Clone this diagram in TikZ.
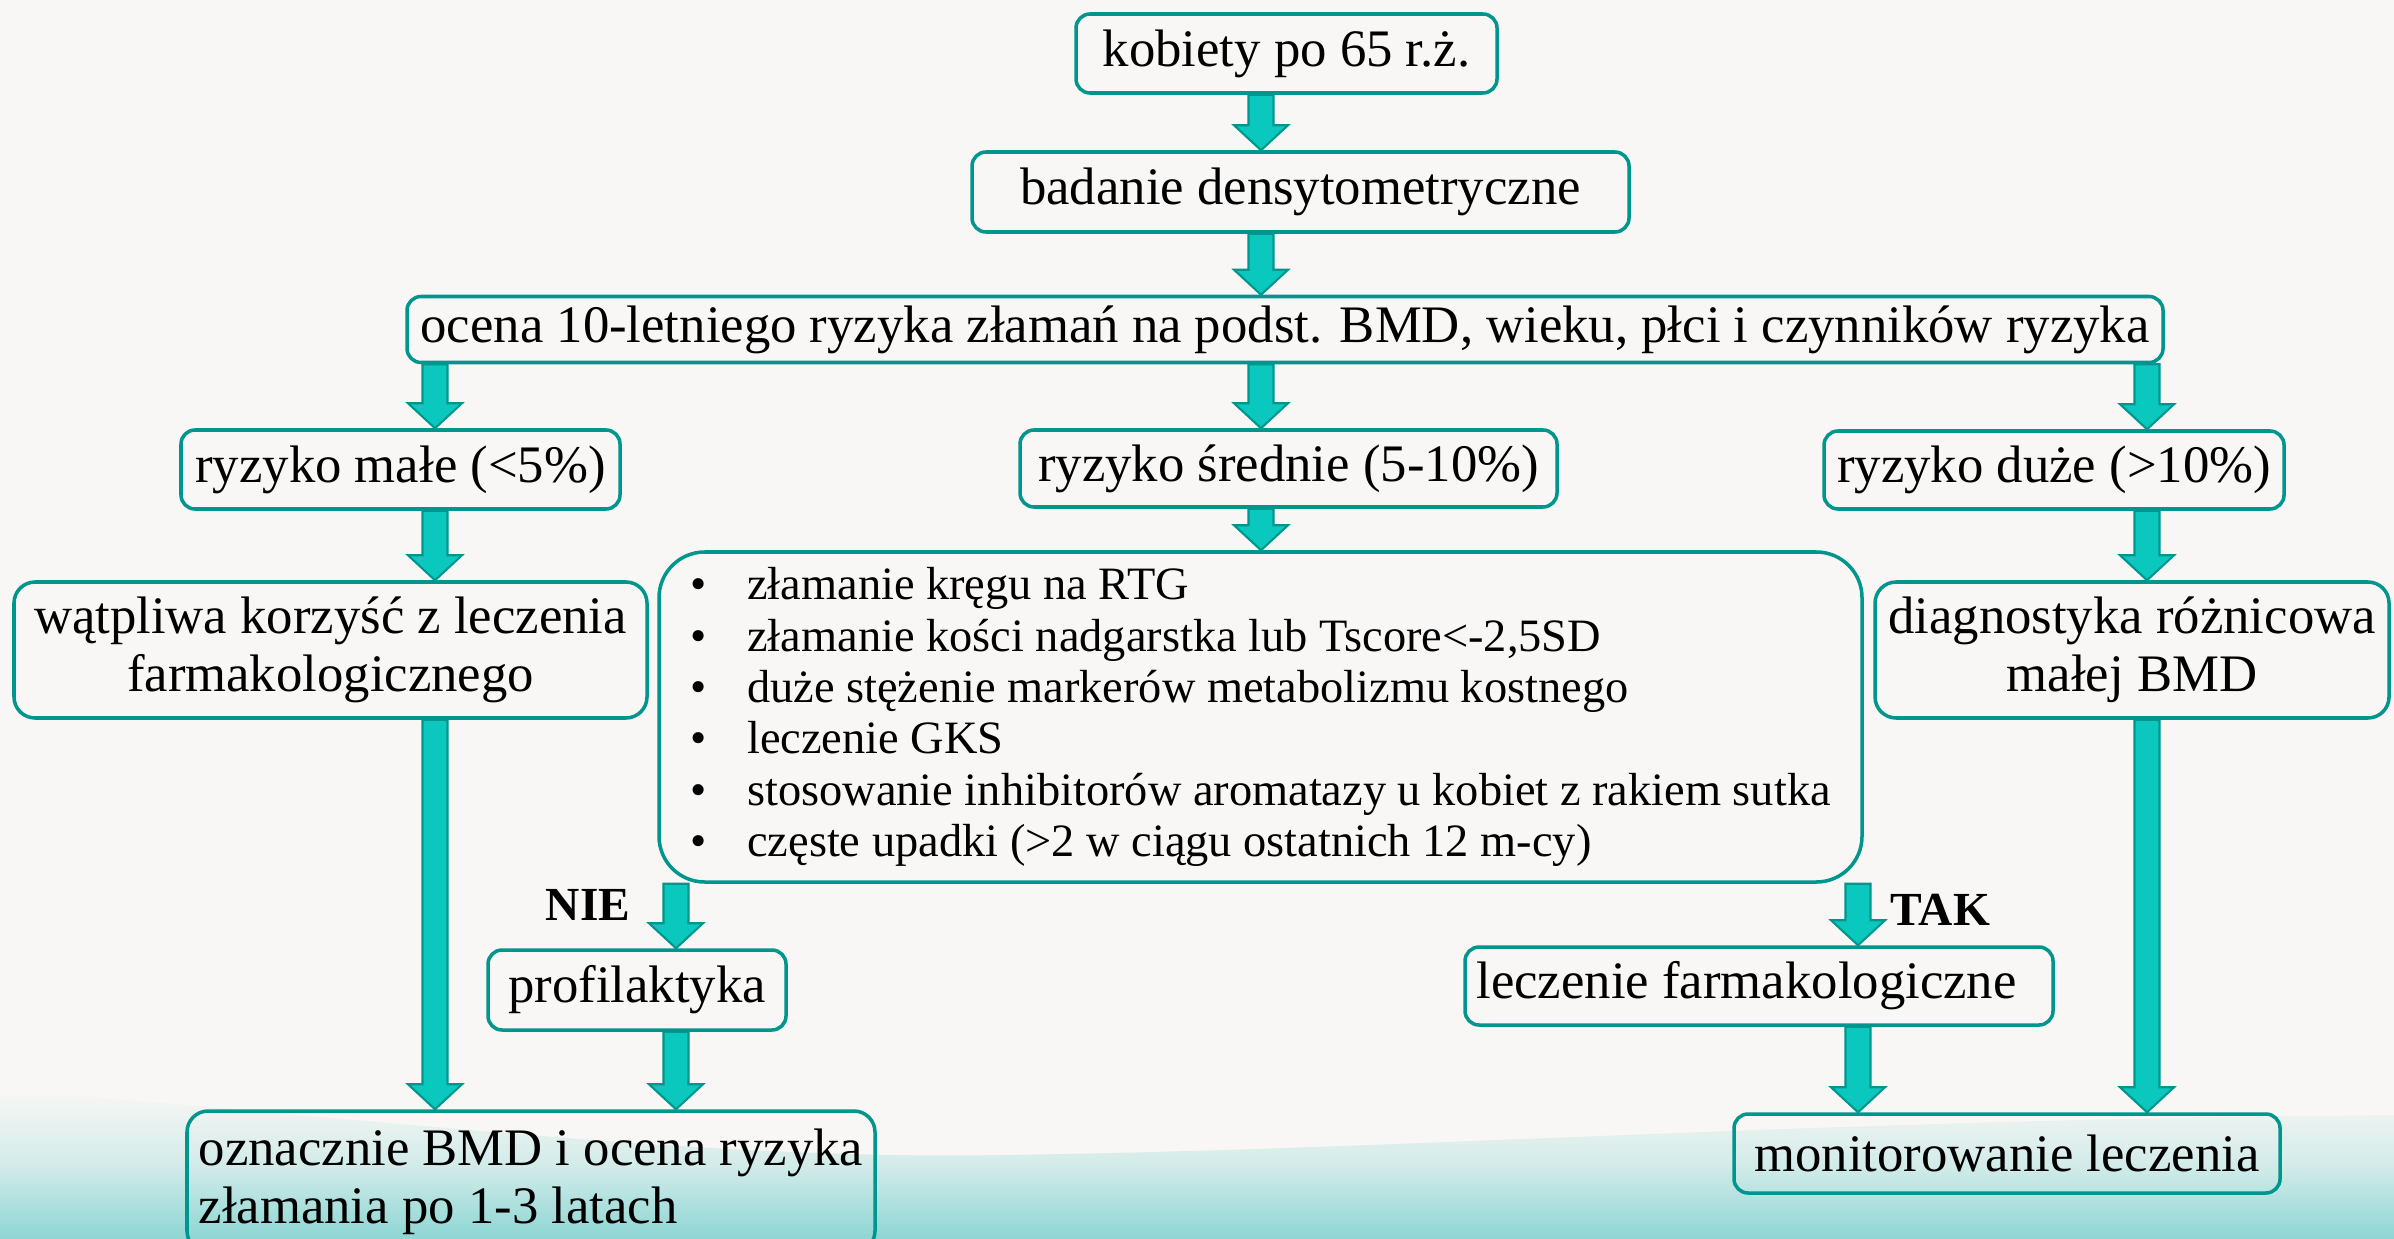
\documentclass[tikz,border=0pt]{standalone}
\usepackage{fontspec}
\setmainfont{Liberation Serif}
\usetikzlibrary{positioning, calc}

\definecolor{paper}{RGB}{249,247,245}
\definecolor{wash}{RGB}{140,214,211}
\definecolor{tealline}{RGB}{0,150,142}
\definecolor{tealfill}{RGB}{10,200,190}

%% block arrow from point #1 down to point #2
\newcommand{\flowarrow}[2]{%
  \path (#1) coordinate (fa) (#2) coordinate (fb);
  \filldraw[flow] ($(fa)+(-0.125,0)$) -- ($(fb)+(-0.125,0.25)$)
    -- ($(fb)+(-0.27,0.25)$) -- (fb) -- ($(fb)+(0.27,0.25)$)
    -- ($(fb)+(0.125,0.25)$) -- ($(fa)+(0.125,0)$) -- cycle;
}

\begin{document}
\begin{tikzpicture}[
  font=\fontsize{15}{16.4}\selectfont,
  %% Main node styles
  box/.style={
    draw=tealline, line width=1pt, rounded corners=4pt,
    align=center, inner sep=2pt
  },
  tallbox/.style={box, rounded corners=6pt},
  listbox/.style={
    draw=tealline, line width=1pt, rounded corners=13pt,
    align=left, inner sep=2pt,
    font=\fontsize{13.2}{14.6}\selectfont
  },
  answer/.style={font=\fontsize{13.5}{15}\selectfont\bfseries, inner sep=0pt},
  flow/.style={fill=tealfill, draw=tealline, line width=0.6pt, line join=miter},
]

%% ── PAGE ──────────────────────────────────────────────────────────────────
\useasboundingbox (0,0) rectangle (23.94,-12.39);
\clip (0,0) rectangle (23.94,-12.39);
\fill[paper] (0,0) rectangle (23.94,-12.39);
\shade[top color=paper, bottom color=wash, middle color=wash!35!paper]
  (0,-10.9) .. controls (4,-11.2) and (7,-11.6) .. (10,-11.55)
  .. controls (14,-11.5) and (18,-11.2) .. (23.94,-11.15)
  -- (23.94,-12.39) -- (0,-12.39) -- cycle;

%% arrow columns
\coordinate (colL) at (4.35,0);
\coordinate (colM) at (12.61,0);
\coordinate (colR) at (21.47,0);
\coordinate (colN) at (6.76,0);
\coordinate (colT) at (18.58,0);

%% ── MAIN NODES ────────────────────────────────────────────────────────────
\node[box, minimum width=4.21cm, minimum height=0.79cm] (kob) at (12.865,-0.535)
  {kobiety po 65 r.ż.};
\node[box, minimum width=6.57cm, minimum height=0.80cm] (bad) at (13.005,-1.92)
  {badanie densytometryczne};
\node[box, inner ysep=1pt, minimum width=17.56cm, minimum height=0.66cm] (ocena) at (12.85,-3.295)
  {ocena 10-letniego ryzyka złamań na podst. BMD, wieku, płci i czynników ryzyka};

\node[box, minimum width=4.39cm, minimum height=0.79cm] (male) at (4.005,-4.695)
  {ryzyko małe (<5\%)};
\node[box, minimum width=5.37cm, minimum height=0.77cm] (sred) at (12.885,-4.685)
  {ryzyko średnie (5-10\%)};
\node[box, minimum width=4.60cm, minimum height=0.78cm] (duze) at (20.54,-4.70)
  {ryzyko duże (>10\%)};

\node[tallbox, minimum width=6.33cm, minimum height=1.36cm] (watp) at (3.305,-6.50)
  {wątpliwa korzyść z leczenia\\farmakologicznego};
\node[listbox, minimum width=12.03cm, minimum height=3.30cm] (lista) at (12.605,-7.17) {%
  \makebox[0.57cm][l]{\textbullet}złamanie kręgu na RTG\\
  \makebox[0.57cm][l]{\textbullet}złamanie kości nadgarstka lub Tscore<-2,5SD\\
  \makebox[0.57cm][l]{\textbullet}duże stężenie markerów metabolizmu kostnego\\
  \makebox[0.57cm][l]{\textbullet}leczenie GKS\\
  \makebox[0.57cm][l]{\textbullet}stosowanie inhibitorów aromatazy u kobiet z rakiem sutka\\
  \makebox[0.57cm][l]{\textbullet}częste upadki (>2 w ciągu ostatnich 12 m-cy)};
\node[tallbox, minimum width=5.14cm, minimum height=1.36cm] (diag) at (21.32,-6.50)
  {diagnostyka różnicowa\\małej BMD};

\node[box, minimum width=2.98cm, minimum height=0.80cm] (prof) at (6.37,-9.90)
  {profilaktyka};
\node[box, minimum width=5.88cm, minimum height=0.78cm] (lecz) at (17.59,-9.86)
  {leczenie farmakologiczne\hspace{0.25cm}};

\node[tallbox, align=left, minimum width=6.88cm, minimum height=1.41cm] (ozn) at (5.31,-11.815)
  {oznacznie BMD i ocena ryzyka\\złamania po 1-3 latach};
\node[box, minimum width=5.46cm, minimum height=0.79cm] (mon) at (20.07,-11.535)
  {monitorowanie leczenia};

%% ── DECISION LABELS ───────────────────────────────────────────────────────
\node[answer, anchor=base east] (nie) at (6.31,-9.20) {NIE};
\node[answer, anchor=base west] (tak) at (18.90,-9.25) {TAK};

%% ── MAIN ARROWS ───────────────────────────────────────────────────────────
%% kobiety → badanie → ocena
\flowarrow{kob.south -| colM}{bad.north -| colM}
\flowarrow{bad.south -| colM}{ocena.north -| colM}

%% ocena → three risk groups
\flowarrow{ocena.south -| colL}{male.north -| colL}
\flowarrow{ocena.south -| colM}{sred.north -| colM}
\flowarrow{ocena.south -| colR}{duze.north -| colR}

%% risk groups → next step
\flowarrow{male.south -| colL}{watp.north -| colL}
\flowarrow{sred.south -| colM}{lista.north -| colM}
\flowarrow{duze.south -| colR}{diag.north -| colR}

%% list → NIE / TAK
\flowarrow{lista.south -| colN}{prof.north -| colN}
\flowarrow{lista.south -| colT}{lecz.north -| colT}

%% into the bottom boxes
\flowarrow{watp.south -| colL}{ozn.north -| colL}
\flowarrow{prof.south -| colN}{ozn.north -| colN}
\flowarrow{lecz.south -| colT}{mon.north -| colT}
\flowarrow{diag.south -| colR}{mon.north -| colR}

\end{tikzpicture}
\end{document}
